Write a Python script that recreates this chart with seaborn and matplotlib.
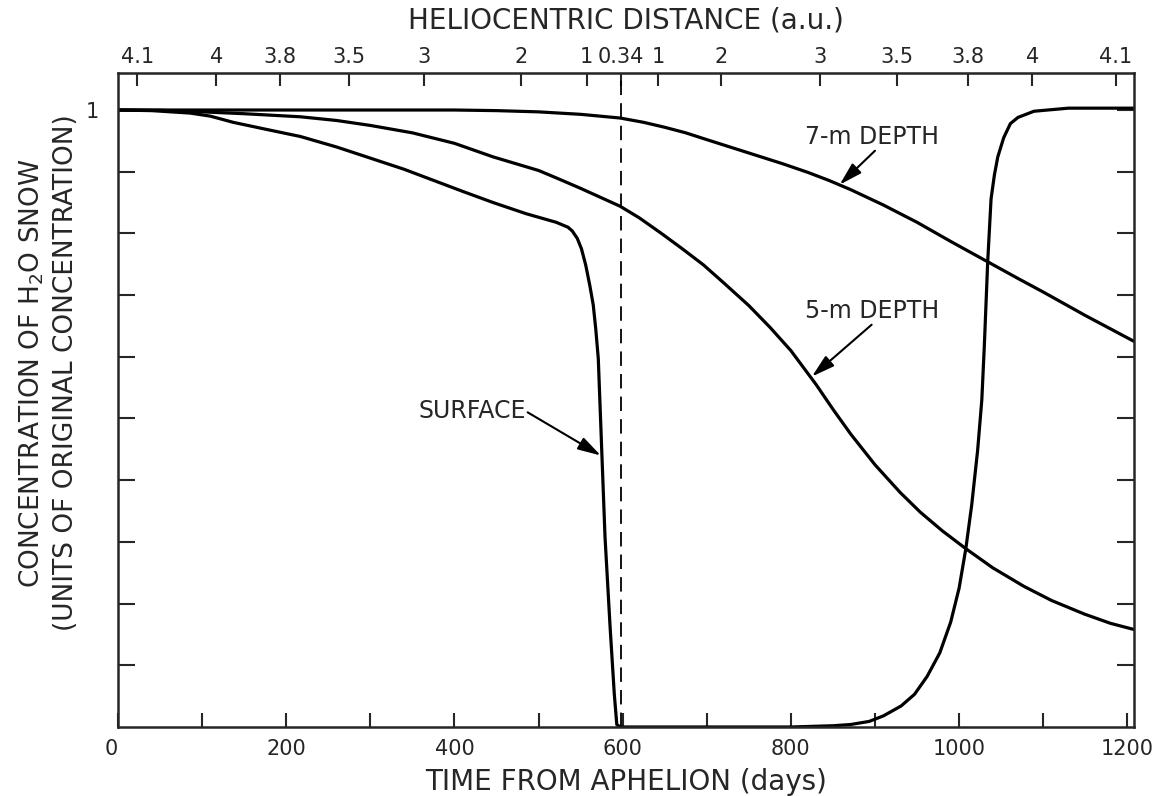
import matplotlib
matplotlib.use("Agg")
import matplotlib.pyplot as plt
import seaborn as sns

sns.set_style("ticks")
plt.rcParams["font.family"] = ["DejaVu Sans"]

# curves (time from aphelion in days, concentration)
day_7m = [0, 100, 200, 300, 400, 450, 500, 550, 597, 625, 650, 675, 700, 730, 760, 790,
          820, 845, 871, 910, 950, 990, 1034, 1070, 1100, 1150, 1208]
conc_7m = [1.0, 1.0, 1.0, 1.0, 1.0, 0.999, 0.997, 0.993, 0.987, 0.98, 0.972, 0.963, 0.952,
           0.939, 0.926, 0.913, 0.899, 0.886, 0.871, 0.846, 0.818, 0.787, 0.754, 0.727,
           0.705, 0.667, 0.625]

day_5m = [0, 50, 100, 150, 217, 260, 300, 350, 400, 446, 500, 521, 550, 597, 620, 646,
          670, 696, 720, 750, 775, 800, 830, 850, 871, 900, 930, 954, 980, 1008, 1040,
          1077, 1110, 1149, 1180, 1208]
conc_5m = [1.0, 0.9995, 0.997, 0.994, 0.989, 0.983, 0.975, 0.963, 0.946, 0.924, 0.902,
           0.89, 0.873, 0.844, 0.825, 0.80, 0.776, 0.749, 0.72, 0.683, 0.648, 0.61, 0.555,
           0.515, 0.475, 0.425, 0.38, 0.348, 0.318, 0.289, 0.258, 0.228, 0.205, 0.183,
           0.168, 0.158]

day_surf = [0, 40, 86, 110, 137, 175, 217, 260, 300, 340, 375, 410, 446, 485, 521, 535,
            540, 546, 551, 556, 561, 565, 568, 571, 575, 579, 585, 590, 593, 597, 700,
            800, 850, 871, 893, 910, 931, 947, 962, 977, 990, 1000, 1008, 1015, 1022, 1027,
            1030, 1034, 1038, 1042, 1046, 1053, 1061, 1070, 1089, 1130, 1208]
conc_surf = [1.0, 0.999, 0.995, 0.99, 0.98, 0.969, 0.957, 0.94, 0.922, 0.904, 0.886, 0.868,
             0.85, 0.832, 0.818, 0.81, 0.804, 0.792, 0.775, 0.749, 0.715, 0.684, 0.645,
             0.597, 0.452, 0.308, 0.163, 0.054, 0.004, 0.0, 0.0, 0.0, 0.002, 0.004, 0.009,
             0.018, 0.034, 0.053, 0.082, 0.12, 0.17, 0.225, 0.289, 0.36, 0.448, 0.53,
             0.618, 0.754, 0.856, 0.895, 0.924, 0.955, 0.978, 0.988, 0.998, 1.003, 1.003]

perihelion_day = 598

x_ticks = [0, 100, 200, 300, 400, 500, 600, 700, 800, 900, 1000, 1100, 1200]
x_labels = ["0", "", "200", "", "400", "", "600", "", "800", "", "1000", "", "1200"]
y_ticks = [0.1, 0.2, 0.3, 0.4, 0.5, 0.6, 0.7, 0.8, 0.9, 1.0]
y_labels = ["", "", "", "", "", "", "", "", "", "1"]

top_days = [23, 117, 193, 275, 364, 479, 557, 598, 642, 717, 835, 926, 1010, 1087, 1186]
top_labels = ["4.1", "4", "3.8", "3.5", "3", "2", "1", "0.34", "1", "2", "3", "3.5",
              "3.8", "4", "4.1"]

fig = plt.figure(figsize=(11.63, 7.96), dpi=100)
ax = fig.add_axes([0.1015, 0.0867, 0.8736, 0.8216])

for d, c in [(day_7m, conc_7m), (day_5m, conc_5m), (day_surf, conc_surf)]:
    sns.lineplot(x=d, y=c, ax=ax, color="black", lw=2.3, estimator=None, sort=False)

ax.axvline(perihelion_day, color="black", lw=1.3, ls=(0, (8, 4.5)))

ax.set_xlim(0, 1208)
ax.set_ylim(0, 1.06)
ax.set_xticks(x_ticks, labels=x_labels)
ax.set_yticks(y_ticks, labels=y_labels)
ax.tick_params(axis="x", direction="in", length=10, width=1.5, pad=9, labelsize=15)
ax.tick_params(axis="y", direction="in", length=12, width=1.5, pad=14, labelsize=15,
               right=True)
ax.get_xticklabels()[0].set_ha("right")
for s in ax.spines.values():
    s.set_linewidth(1.8)

top = ax.secondary_xaxis("top")
top.set_xticks(top_days, labels=top_labels)
top.tick_params(direction="in", length=9, width=1.5, pad=4, labelsize=15)

axis_mid = (118 + 1134) / 2 / 1163
fig.text(axis_mid, 1 - 20 / 796, "HELIOCENTRIC DISTANCE (a.u.)", ha="center",
         va="center", fontsize=20)
fig.text(axis_mid, 1 - 782 / 796, "TIME FROM APHELION (days)", ha="center",
         va="center", fontsize=20)
fig.text(32 / 1163, 1 - 373 / 796, "CONCENTRATION OF H$_2$O SNOW", rotation=90,
         ha="center", va="center", fontsize=19)
fig.text(66 / 1163, 1 - 373 / 796, "(UNITS OF ORIGINAL CONCENTRATION)", rotation=90,
         ha="center", va="center", fontsize=19)

arrow = dict(arrowstyle="-|>,head_length=0.7,head_width=0.2", color="black", lw=1.5,
             shrinkA=0, shrinkB=0, mutation_scale=20)
ax.text(817, 0.956, "7-m DEPTH", fontsize=17, ha="left", va="center")
ax.annotate("", xy=(858, 0.879), xytext=(900, 0.934), arrowprops=arrow)
ax.text(817, 0.675, "5-m DEPTH", fontsize=17, ha="left", va="center")
ax.annotate("", xy=(825, 0.568), xytext=(896, 0.652), arrowprops=arrow)
ax.text(485, 0.512, "SURFACE", fontsize=17, ha="right", va="center")
ax.annotate("", xy=(574, 0.44), xytext=(487, 0.51), arrowprops=arrow)

fig.savefig("out.png", dpi=100)
